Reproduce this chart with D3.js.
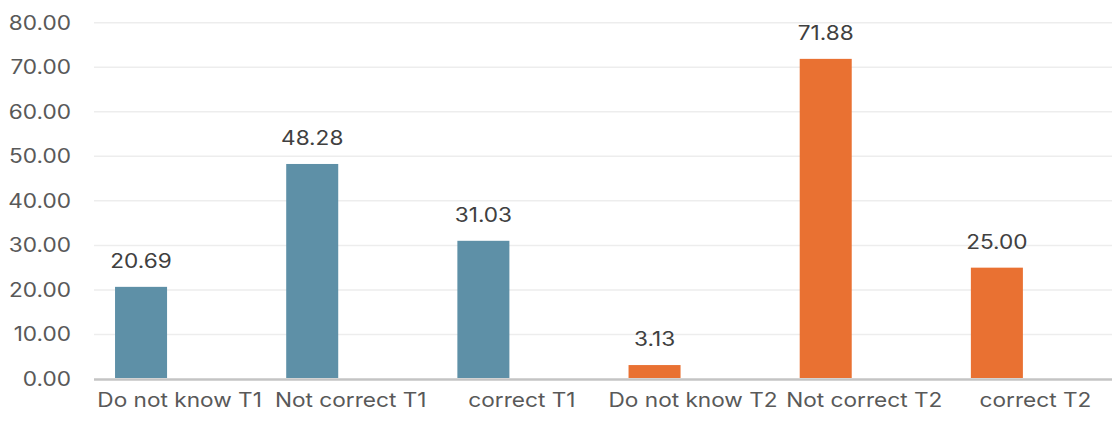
<!DOCTYPE html>
<html>
<head>
<meta charset="utf-8">
<script src="https://cdn.jsdelivr.net/npm/d3@7"></script>
<style>
  html, body { margin: 0; padding: 0; background: #ffffff; }
  svg { display: block; }
  text { font-family: Inter, "Noto Sans", sans-serif; }
</style>
</head>
<body>
<svg id="chart" width="1112" height="424"></svg>
<script>
// Response categories, one bar each
const categories = ["Do not know T1", "Not correct T1", "correct T1",
                    "Do not know T2", "Not correct T2", "correct T2"];
// Share of responses (%)
const values = [20.69, 48.28, 31.03, 3.13, 71.88, 25.00];
// Test round each category belongs to (drives the fill colour)
const rounds = ["T1", "T1", "T1", "T2", "T2", "T2"];
// Value-axis ticks
const yTicks = [0, 10, 20, 30, 40, 50, 60, 70, 80];

const roundColor = { T1: "#5e90a7", T2: "#e97132" };

const W = 1112, H = 424;
const plot = { left: 94, right: 1121, top: 22.7, bottom: 379 };
const FONT_SIZE = 19.5;
const TEXT_WIDEN = 1.16;   // labels are set slightly wide

const svg = d3.select("#chart");

const x = d3.scaleBand()
  .domain(categories)
  .range([plot.left, plot.right])
  .padding(0);

// Each category reserves two cluster slots; the bar sits in the first one
const slot = d3.scaleBand()
  .domain(["bar", "spare"])
  .range([0, x.step()])
  .paddingInner(0.325)
  .paddingOuter(0.273);

const y = d3.scaleLinear()
  .domain([0, 80])
  .range([plot.bottom, plot.top]);

const place = (px, py) => `translate(${px},${py}) scale(${TEXT_WIDEN},1)`;

// Horizontal gridlines
svg.append("g")
  .selectAll("line")
  .data(yTicks.filter(t => t > 0))
  .join("line")
  .attr("x1", plot.left)
  .attr("x2", W)
  .attr("y1", d => y(d))
  .attr("y2", d => y(d))
  .attr("stroke", "#ededed")
  .attr("stroke-width", 1.5);

// Value-axis labels
svg.append("g")
  .selectAll("text")
  .data(yTicks)
  .join("text")
  .attr("transform", d => place(71, y(d)))
  .attr("dy", "0.36em")
  .attr("text-anchor", "end")
  .attr("font-size", FONT_SIZE)
  .attr("fill", "#595959")
  .text(d => d3.format(".2f")(d));

// Bars
svg.append("g")
  .selectAll("rect")
  .data(values)
  .join("rect")
  .attr("x", (d, i) => x(categories[i]) + slot("bar"))
  .attr("width", slot.bandwidth())
  .attr("y", d => y(d))
  .attr("height", d => y(0) - y(d) - 1)
  .attr("fill", (d, i) => roundColor[rounds[i]]);

// Category axis line
svg.append("line")
  .attr("x1", plot.left)
  .attr("x2", W)
  .attr("y1", y(0) + 0.5)
  .attr("y2", y(0) + 0.5)
  .attr("stroke", "#c4c4c4")
  .attr("stroke-width", 2.6);

// Data labels above the bars
svg.append("g")
  .selectAll("text")
  .data(values)
  .join("text")
  .attr("transform", (d, i) =>
    place(x(categories[i]) + slot("bar") + slot.bandwidth() / 2, y(d) - 18.6))
  .attr("text-anchor", "middle")
  .attr("font-size", FONT_SIZE)
  .attr("fill", "#404040")
  .text(d => d3.format(".2f")(d));

// Category labels
svg.append("g")
  .selectAll("text")
  .data(categories)
  .join("text")
  .attr("transform", d => place(x(d) + x.bandwidth() / 2, 407))
  .attr("text-anchor", "middle")
  .attr("font-size", FONT_SIZE)
  .attr("fill", "#595959")
  .text(d => d);
</script>
</body>
</html>
